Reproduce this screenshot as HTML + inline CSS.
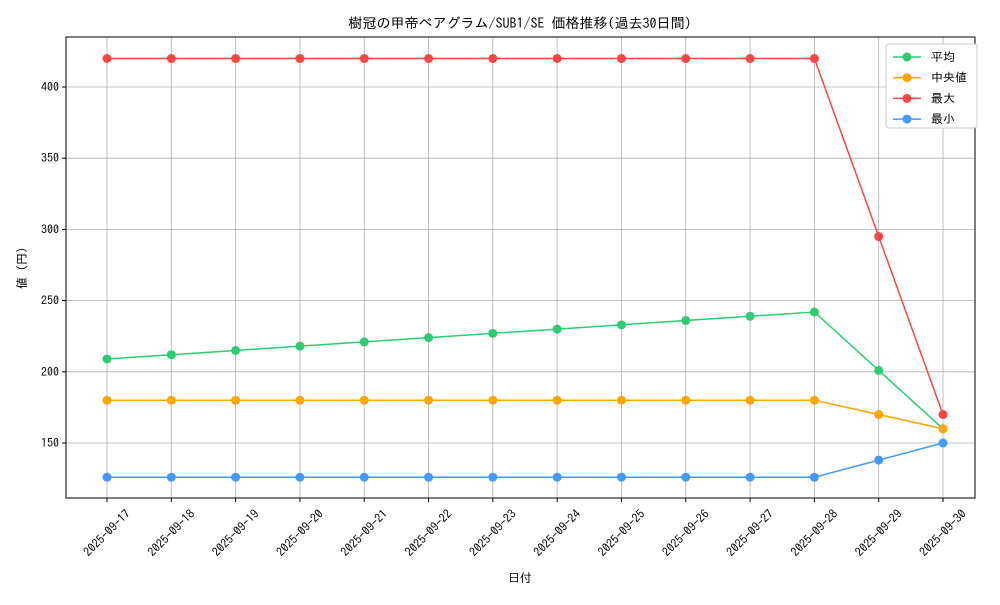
<!DOCTYPE html>
<html><head><meta charset="utf-8"><style>
body{margin:0;background:#fff;}
svg text{font-family:"IPAGothic","Noto Sans CJK JP",sans-serif;fill:#000;}
</style></head><body>
<svg id="chart" width="1000" height="600">
<rect width="1000" height="600" fill="#fff"/>
<g id="grid"></g>
<g id="series"></g>
<g id="axes"></g>
</svg>
<script>
const categories=["2025-09-17","2025-09-18","2025-09-19","2025-09-20","2025-09-21","2025-09-22","2025-09-23","2025-09-24","2025-09-25","2025-09-26","2025-09-27","2025-09-28","2025-09-29","2025-09-30"];
const avgValues=[209,212,215,218,221,224,227,230,233,236,239,242,201,160];
const medianValues=[180,180,180,180,180,180,180,180,180,180,180,180,170,160];
const maxValues=[420,420,420,420,420,420,420,420,420,420,420,420,295,170];
const minValues=[126,126,126,126,126,126,126,126,126,126,126,126,138,150];
const yTicks=[150,200,250,300,350,400];
const seriesNames=["平均","中央値","最大","最小"];
const L=66,R=975,T=37,B=498,yMin=111.4,yMax=435.1;
const xs=i=>107+i*(943-107)/(categories.length-1);
const ys=v=>B-(v-yMin)/(yMax-yMin)*(B-T);
const NS="http://www.w3.org/2000/svg";
function mk(tag,attrs,parent,txt){const e=document.createElementNS(NS,tag);for(const k in attrs)e.setAttribute(k,attrs[k]);if(txt!==undefined)e.textContent=txt;parent.appendChild(e);return e;}
const grid=document.getElementById('grid'),ser=document.getElementById('series'),ax=document.getElementById('axes');
categories.forEach((c,i)=>{
 const g=mk('line',{x1:xs(i),x2:xs(i),y1:T,y2:B,stroke:'#b0b0b0','stroke-width':0.8},grid);
 
 
 mk('line',{x1:xs(i),x2:xs(i),y1:B,y2:B+4,stroke:'#000'},ax);
 const cx=xs(i),cy=B+35;
 const t=mk('text',{x:cx,y:cy+4,'font-size':12,'text-anchor':'middle',transform:`rotate(-45 ${cx} ${cy})`},ax,c);
 
 
});
yTicks.forEach(v=>{
 const g=mk('line',{x1:L,x2:R,y1:ys(v),y2:ys(v),stroke:'#b0b0b0','stroke-width':0.8},grid);
 
 
 mk('line',{x1:L-4,x2:L,y1:ys(v),y2:ys(v),stroke:'#000'},ax);
 const t=mk('text',{x:L-7,y:ys(v)+4,'font-size':12,'text-anchor':'end'},ax,v);
 
 
});
const frame=mk('rect',{x:L,y:T,width:R-L,height:B-T,fill:'none',stroke:'#000','stroke-width':1},ax);


const allSeries=[[avgValues,'#2ecc71'],[medianValues,'#ffa500'],[maxValues,'#ff4444'],[minValues,'#4499ff']];
allSeries.forEach(([vals,col],si)=>{
 const p=mk('polyline',{points:vals.map((v,i)=>xs(i)+','+ys(v)).join(' '),fill:'none',stroke:col,'stroke-width':1.5},ser);
 
 
 vals.forEach((v,i)=>{
  const c=mk('circle',{cx:xs(i),cy:ys(v),r:4.5,fill:col},ser);
  
  
 });
});
const t1=mk('text',{x:520,y:28,'font-size':14,'text-anchor':'middle'},ax,'樹冠の甲帝ベアグラム/SUB1/SE 価格推移(過去30日間)');


const t2=mk('text',{x:520,y:582,'font-size':12,'text-anchor':'middle'},ax,'日付');


const t3=mk('text',{x:26,y:268,'font-size':12,'text-anchor':'middle',transform:'rotate(-90 26 268)'},ax,'値 (円)');


const lg=mk('g',{},ax);


mk('rect',{x:886,y:44,width:91,height:84,fill:'#fff',stroke:'#ccc',rx:3},lg);
allSeries.forEach(([vals,col],si)=>{
 const y=57+si*20.7;
 mk('line',{x1:893,x2:921,y1:y,y2:y,stroke:col,'stroke-width':1.5},lg);
 mk('circle',{cx:907,cy:y,r:4.5,fill:col},lg);
 const t=mk('text',{x:931,y:y+4,'font-size':12},lg,seriesNames[si]);
 
 
});
</script>
</body></html>
